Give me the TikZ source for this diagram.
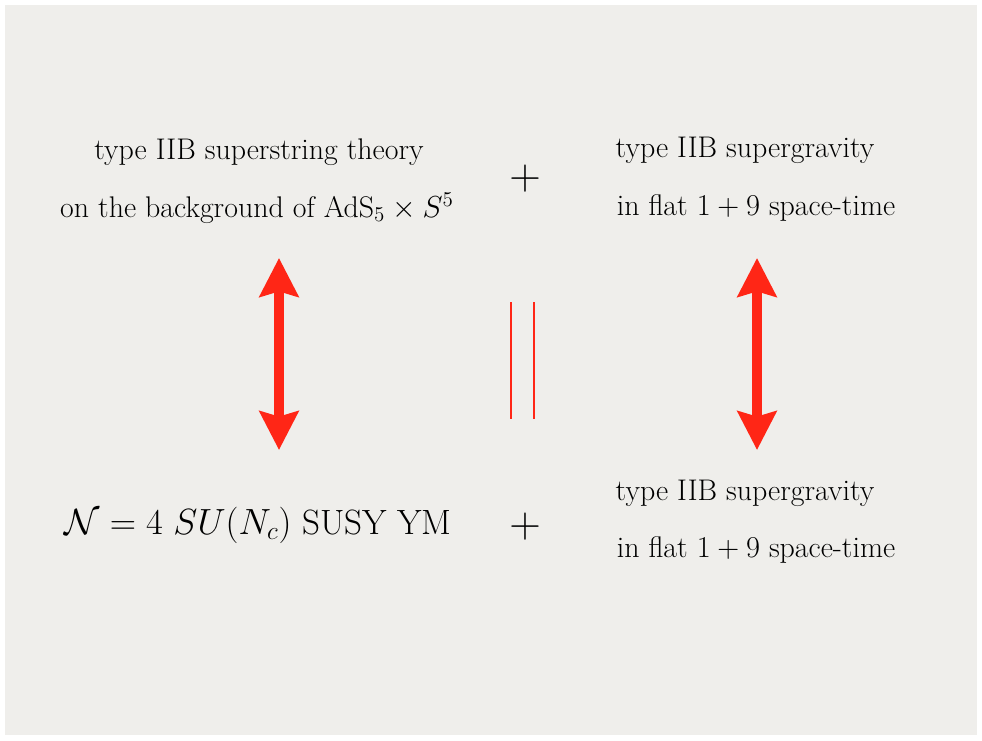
\documentclass[tikz,border=0pt]{standalone}
\usepackage{amsmath}
\usepackage{amssymb}
\usepackage{tikz}
\usetikzlibrary{arrows.meta}
\definecolor{paper}{RGB}{239,238,235}
\definecolor{arrred}{RGB}{255,38,22}
\tikzset{>={Stealth[width=22pt,length=22pt,inset=3pt]}}
\tikzset{txt/.style={font=\fontsize{17}{20}\selectfont,inner sep=0pt}}
\tikzset{bigtxt/.style={font=\fontsize{20}{24}\selectfont,inner sep=0pt}}
\tikzset{plustxt/.style={font=\fontsize{27}{30}\selectfont,inner sep=0pt}}

\begin{document}
\begin{tikzpicture}[x=0.02cm,y=-0.02cm]
       \fill[white] (0,0) rectangle (982,740);
       \fill[paper] (5,5) rectangle (977,735);
       \node[txt] (stra) at (259,152) {type IIB superstring theory};
       \node[txt] (strb) at (257,208) {on the background of AdS$_5\times S^5$};
       \node[plustxt] (plusa) at (525,179) {$+$};
       \node[txt] (sugraa) at (745,150) {type IIB supergravity};
       \node[txt] (sugrab) at (756,208) {in flat $1+9$ space-time};
       \node[bigtxt] (sym) at (258,525) {$\mathcal{N}=4$ $SU(N_c)$ SUSY YM};
       \node[plustxt] (plusb) at (525,527) {$+$};
       \node[txt] (sugrac) at (745,493) {type IIB supergravity};
       \node[txt] (sugrad) at (756,550) {in flat $1+9$ space-time};
       \draw[<->,arrred,line width=5.6pt] (279,258) -- (279,450);
       \draw[<->,arrred,line width=5.6pt] (757,258) -- (757,450);
       \draw[arrred,line width=1.4pt] (511,302) -- (511,419);
       \draw[arrred,line width=1.4pt] (534,302) -- (534,419);
      \end{tikzpicture}
\end{document}
